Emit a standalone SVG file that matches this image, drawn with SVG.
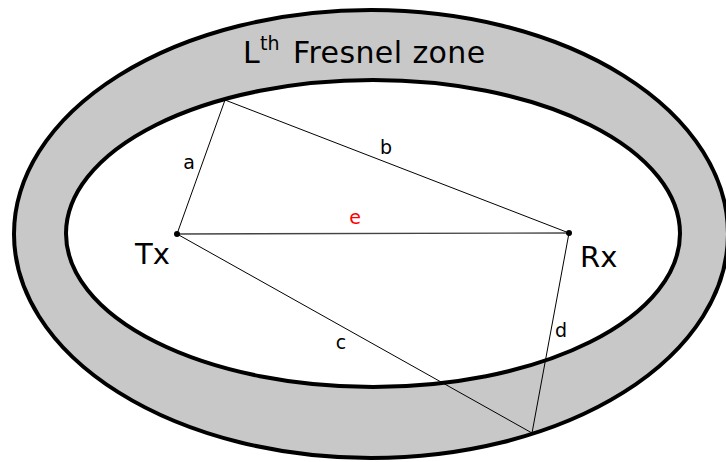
<svg xmlns="http://www.w3.org/2000/svg" width="726" height="462" viewBox="0 0 726 462">
<style>
.zone{stroke:#000;stroke-width:4}
.ln{stroke:#000;stroke-width:1;fill:none}
.big{font-family:"DejaVu Sans",Verdana,sans-serif;font-size:29px;fill:#000}
.title{font-family:"DejaVu Sans",Verdana,sans-serif;font-size:30px;fill:#000}
.sm{font-family:"DejaVu Sans",Verdana,sans-serif;font-size:19px;fill:#000}
</style>
<rect width="726" height="462" fill="#fff"/>
<g id="outer-zone">
<ellipse class="zone" cx="371" cy="234" rx="357" ry="224" fill="#c8c8c8"/>
<text class="title" x="243" y="63">L</text>
<text class="sm" x="260" y="50">th</text>
<text class="title" x="293" y="63" letter-spacing="0.4">Fresnel zone</text>
</g>
<g id="inner-zone">
<ellipse class="zone" cx="373" cy="233.5" rx="307" ry="153.5" fill="#fff"/>
</g>
<g id="connectors">
<line class="ln" x1="177" y1="234" x2="225" y2="100"/>
<line class="ln" x1="225" y1="100" x2="569" y2="233"/>
<line x1="177" y1="234" x2="569" y2="233" stroke="#444" stroke-width="1.4"/>
<line class="ln" x1="177" y1="234" x2="532" y2="433"/>
<line class="ln" x1="532" y1="433" x2="569" y2="233"/>
<text class="sm" x="189" y="169" text-anchor="middle">a</text>
<text class="sm" x="386" y="154" text-anchor="middle">b</text>
<text class="sm" x="355" y="224" text-anchor="middle" style="fill:#f00">e</text>
<text class="sm" x="341" y="349" text-anchor="middle">c</text>
<text class="sm" x="555" y="337">d</text>
</g>
<g id="tx">
<circle cx="177" cy="234" r="3"/>
<text class="big" x="135" y="264">Tx</text>
</g>
<g id="rx">
<circle cx="569" cy="233" r="3"/>
<text class="big" x="580" y="267">Rx</text>
</g>
</svg>
